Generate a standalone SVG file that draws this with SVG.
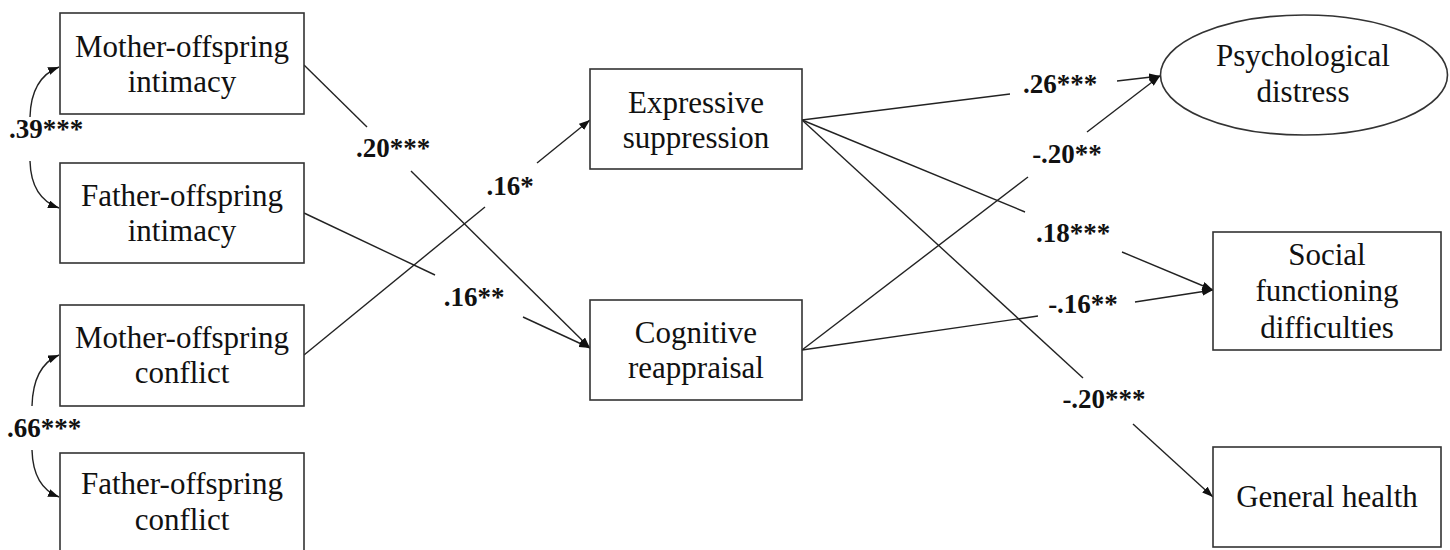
<svg xmlns="http://www.w3.org/2000/svg" width="1450" height="550" viewBox="0 0 1450 550">
  <style>
    .box { fill: #ffffff; stroke: #333333; stroke-width: 1.6; }
    .n { font-family: "Liberation Serif", "Times New Roman", serif; font-size: 31px; fill: #111111; text-anchor: middle; }
    .lb { font-family: "Liberation Serif", "Times New Roman", serif; font-size: 27px; font-weight: bold; fill: #111111; text-anchor: middle; }
    .c { fill: none; stroke: #222222; stroke-width: 1.4; }
    .ca { fill: none; stroke: #222222; stroke-width: 1.4; marker-end: url(#ah); }
  </style>
  <defs>
    <marker id="ah" markerUnits="userSpaceOnUse" markerWidth="11" markerHeight="8" refX="11" refY="4" orient="auto">
      <path d="M0,0 L11,4 L0,8 z" fill="#111111"/>
    </marker>
  </defs>
  <rect width="1450" height="550" fill="#ffffff"/>

  <g id="connectors">
    <!-- covariances -->
    <path class="ca" d="M30,117 Q31,78 59,67"/>
    <path class="ca" d="M30,161 Q31,198 59,208"/>
    <path class="ca" d="M32,406 Q33,366 59,355"/>
    <path class="ca" d="M32,450 Q33,487 59,497"/>
    <!-- Mother intimacy -> Cognitive reappraisal (.20***) -->
    <path class="c" d="M304,65 L367,127"/>
    <path class="ca" d="M411,171 L590,348"/>
    <!-- Father intimacy -> Cognitive reappraisal (.16**) -->
    <path class="c" d="M304,213 L435,275"/>
    <path class="ca" d="M523,317 L590,348"/>
    <!-- Mother conflict -> Expressive suppression (.16*) -->
    <path class="c" d="M304,355 L485,207"/>
    <path class="ca" d="M537,163 L590,120"/>
    <!-- Expressive -> Psychological distress (.26***) -->
    <path class="c" d="M802,120 L1010,94"/>
    <path class="ca" d="M1117,81 L1160,76"/>
    <!-- Cognitive -> Psychological distress (-.20**) -->
    <path class="c" d="M802,350 L1028,177"/>
    <path class="ca" d="M1087,132 L1160,76"/>
    <!-- Expressive -> Social functioning (.18***) -->
    <path class="c" d="M802,120 L1025,212"/>
    <path class="ca" d="M1122,252 L1213,290"/>
    <!-- Cognitive -> Social functioning (-.16**) -->
    <path class="c" d="M802,350 L1038,316"/>
    <path class="ca" d="M1135,302 L1213,290"/>
    <!-- Expressive -> General health (-.20***) -->
    <path class="c" d="M802,120 L1083,378"/>
    <path class="ca" d="M1133,424 L1213,497"/>
  </g>

  <g id="labels">
    <text class="lb" x="46" y="138">.39***</text>
    <text class="lb" x="44" y="437">.66***</text>
    <text class="lb" x="393" y="157">.20***</text>
    <text class="lb" x="510" y="195">.16*</text>
    <text class="lb" x="474" y="306">.16**</text>
    <text class="lb" x="1060" y="93">.26***</text>
    <text class="lb" x="1067" y="163">-.20**</text>
    <text class="lb" x="1073" y="242">.18***</text>
    <text class="lb" x="1083" y="313">-.16**</text>
    <text class="lb" x="1104" y="408">-.20***</text>
  </g>

  <g id="mother-intimacy">
    <rect class="box" x="60" y="13" width="244" height="101"/>
    <text class="n" x="182" y="57">Mother-offspring</text>
    <text class="n" x="182" y="92">intimacy</text>
  </g>
  <g id="father-intimacy">
    <rect class="box" x="60" y="163" width="244" height="100"/>
    <text class="n" x="182" y="206">Father-offspring</text>
    <text class="n" x="182" y="241">intimacy</text>
  </g>
  <g id="mother-conflict">
    <rect class="box" x="60" y="305" width="244" height="101"/>
    <text class="n" x="182" y="348">Mother-offspring</text>
    <text class="n" x="182" y="383">conflict</text>
  </g>
  <g id="father-conflict">
    <rect class="box" x="60" y="453" width="244" height="101"/>
    <text class="n" x="182" y="494">Father-offspring</text>
    <text class="n" x="182" y="530">conflict</text>
  </g>
  <g id="expressive-suppression">
    <rect class="box" x="590" y="69" width="212" height="100"/>
    <text class="n" x="696" y="113">Expressive</text>
    <text class="n" x="696" y="148">suppression</text>
  </g>
  <g id="cognitive-reappraisal">
    <rect class="box" x="590" y="300" width="212" height="100"/>
    <text class="n" x="696" y="343">Cognitive</text>
    <text class="n" x="696" y="378">reappraisal</text>
  </g>
  <g id="psychological-distress">
    <ellipse class="box" cx="1304" cy="75" rx="143.5" ry="60"/>
    <text class="n" x="1303" y="66">Psychological</text>
    <text class="n" x="1303" y="102">distress</text>
  </g>
  <g id="social-functioning">
    <rect class="box" x="1213" y="232" width="228" height="118"/>
    <text class="n" x="1327" y="265">Social</text>
    <text class="n" x="1327" y="301">functioning</text>
    <text class="n" x="1327" y="338">difficulties</text>
  </g>
  <g id="general-health">
    <rect class="box" x="1213" y="447" width="228" height="100"/>
    <text class="n" x="1327" y="507">General health</text>
  </g>
</svg>
